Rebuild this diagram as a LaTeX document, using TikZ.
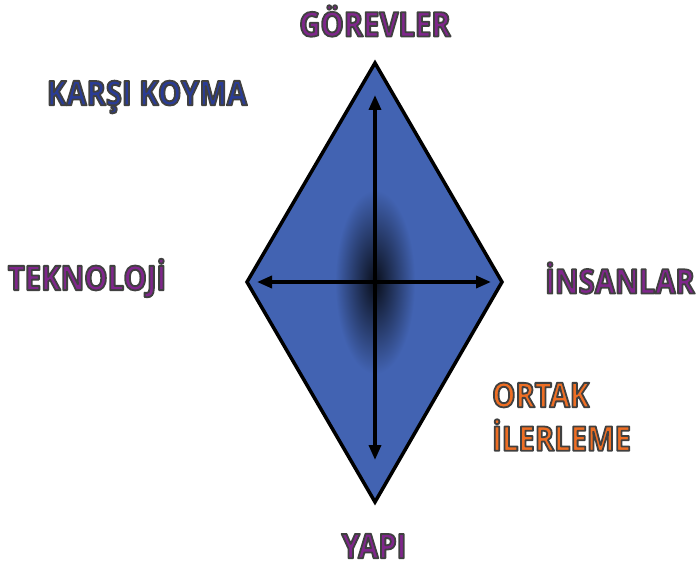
\documentclass[tikz,border=0pt]{standalone}
\usepackage{fontspec}
\setmainfont{Open Sans}[FakeStretch=0.86]
\usepackage{xcolor}
\usepackage{tikz}
\usetikzlibrary{arrows.meta}

\definecolor{kitemor}{RGB}{128,38,140}
\definecolor{kitelaci}{RGB}{42,60,150}
\definecolor{kiteturuncu}{RGB}{238,110,36}
\definecolor{kitemavi}{RGB}{66,99,178}

\tikzset{
 etiket/.style={font=\fontsize{34}{36}\selectfont\bfseries,inner sep=0pt,text=#1},
 okcizgi/.style={line width=3.5pt,{Triangle[length=15pt,width=12pt]}-{Triangle[length=15pt,width=12pt]}}
}
% harflerin koyu kenari
\newcommand{\yazi}[1]{\special{pdf:literal direct 1 j 2 Tr 1.8 w 0.25 0.25 0.25 RG}#1\special{pdf:literal direct 0 Tr}}

\begin{document}
\begin{tikzpicture}[x=1pt,y=-1pt]
 \useasboundingbox (0,0) rectangle (697,567);
 % kose noktalari
 \coordinate (ust) at (375,63);
 \coordinate (alt) at (375,502);
 \coordinate (sol) at (247,282);
 \coordinate (sag) at (502,282);
 \fill[kitemavi] (ust)--(sag)--(alt)--(sol)--cycle;
 \shade[inner color=black!85!kitemavi,outer color=kitemavi] (375,282) ellipse (40 and 92);
 \draw[line width=3.5pt,line join=miter] (ust)--(sag)--(alt)--(sol)--cycle;
 % oklar
 \coordinate (okust) at (375,95);
 \coordinate (okalt) at (375,460);
 \coordinate (oksol) at (257,282);
 \coordinate (oksag) at (491,282);
 \draw[okcizgi] (okust) -- (okalt);
 \draw[okcizgi] (oksol) -- (oksag);
 % etiketler
 \node[etiket=kitemor] (gorev) at (375,21) {\yazi{GÖREVLER}};
 \node[etiket=kitelaci] (karsi) at (147,97) {\yazi{KARŞI KOYMA}};
 \node[etiket=kitemor] (tekno) at (87,278) {\yazi{TEKNOLOJİ}};
 \node[etiket=kitemor] (insan) at (620,278) {\yazi{İNSANLAR}};
 \node[etiket=kiteturuncu,anchor=west] (ortak) at (492,395) {\yazi{ORTAK}};
 \node[etiket=kiteturuncu,anchor=west] (iler) at (492,435) {\yazi{İLERLEME}};
 \node[etiket=kitemor] (yapi) at (374,546) {\yazi{YAPI}};
\end{tikzpicture}
\end{document}
